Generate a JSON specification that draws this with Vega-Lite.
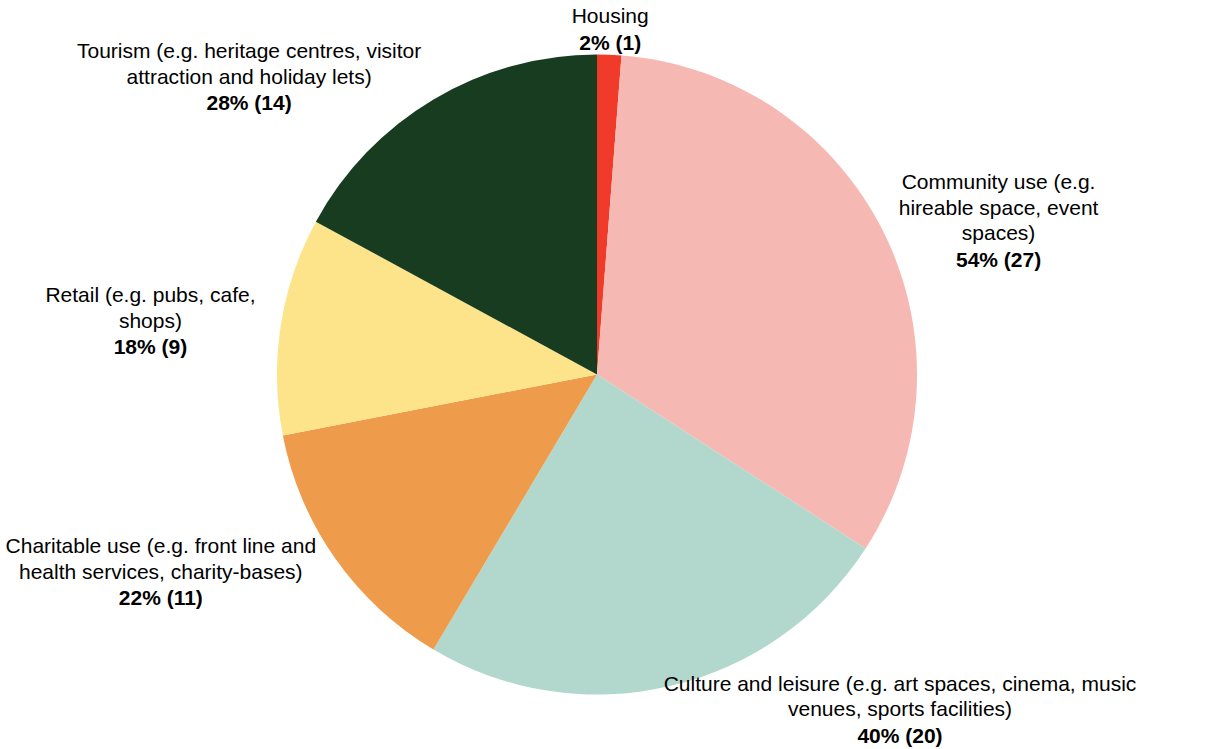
{
  "$schema": "https://vega.github.io/schema/vega-lite/v6.json",
  "width": 1206,
  "height": 749,
  "autosize": {"type": "fit", "contains": "padding"},
  "padding": {"left": 0, "right": 12, "top": 0, "bottom": 0},
  "background": "white",
  "view": {"stroke": null},
  "data": {
    "values": [
      {"idx": 1, "category": "Housing", "desc": ["Housing"], "share": "2% (1)", "n": 1},
      {"idx": 2, "category": "Community use", "desc": ["Community use (e.g.", "hireable space, event", "spaces)"], "share": "54% (27)", "n": 27},
      {"idx": 3, "category": "Culture and leisure", "desc": ["Culture and leisure (e.g. art spaces, cinema, music", "venues, sports facilities)"], "share": "40% (20)", "n": 20},
      {"idx": 4, "category": "Charitable use", "desc": ["Charitable use (e.g. front line and", "health services, charity-bases)"], "share": "22% (11)", "n": 11},
      {"idx": 5, "category": "Retail", "desc": ["Retail (e.g. pubs, cafe,", "shops)"], "share": "18% (9)", "n": 9},
      {"idx": 6, "category": "Tourism", "desc": ["Tourism (e.g. heritage centres, visitor", "attraction and holiday lets)"], "share": "28% (14)", "n": 14}
    ]
  },
  "encoding": {
    "theta": {"field": "n", "type": "quantitative", "stack": true},
    "order": {"field": "idx", "type": "quantitative"}
  },
  "layer": [
    {
      "mark": {"type": "arc", "outerRadius": 320},
      "encoding": {
        "color": {
          "field": "category",
          "type": "nominal",
          "scale": {
            "domain": ["Housing", "Community use", "Culture and leisure", "Charitable use", "Retail", "Tourism"],
            "range": ["#F03A2A", "#F6B8B3", "#B2D8CD", "#EE9B4B", "#FDE38A", "#173C20"]
          },
          "legend": null
        }
      }
    },
    {
      "mark": {
        "type": "text",
        "radius": 345,
        "align": "center",
        "baseline": "middle",
        "lineBreak": "\n",
        "font": "Liberation Sans",
        "fontSize": 21,
        "lineHeight": 25.5,
        "color": "#000000",
        "dy": {"expr": "-12.75 * length(datum.desc)"},
        "dx": {"expr": "(sin(scale('theta', 0.5*datum.n_start + 0.5*datum.n_end)) > 0.15 ? 1 : (sin(scale('theta', 0.5*datum.n_start + 0.5*datum.n_end)) < -0.15 ? -1 : 0)) * 4.4 * max(length(datum.desc[0]), length(datum.desc[1] || ''), length(datum.desc[2] || ''))"}
      },
      "encoding": {
        "detail": {"field": "category", "type": "nominal"},
        "text": {"field": "desc", "type": "nominal"}
      }
    },
    {
      "mark": {
        "type": "text",
        "radius": 345,
        "align": "center",
        "baseline": "middle",
        "font": "Liberation Sans",
        "fontSize": 21,
        "fontWeight": "bold",
        "color": "#000000",
        "dy": {"expr": "12.75 * length(datum.desc) + 1"},
        "dx": {"expr": "(sin(scale('theta', 0.5*datum.n_start + 0.5*datum.n_end)) > 0.15 ? 1 : (sin(scale('theta', 0.5*datum.n_start + 0.5*datum.n_end)) < -0.15 ? -1 : 0)) * 4.4 * max(length(datum.desc[0]), length(datum.desc[1] || ''), length(datum.desc[2] || ''))"}
      },
      "encoding": {
        "detail": {"field": "category", "type": "nominal"},
        "text": {"field": "share", "type": "nominal"}
      }
    }
  ]
}
